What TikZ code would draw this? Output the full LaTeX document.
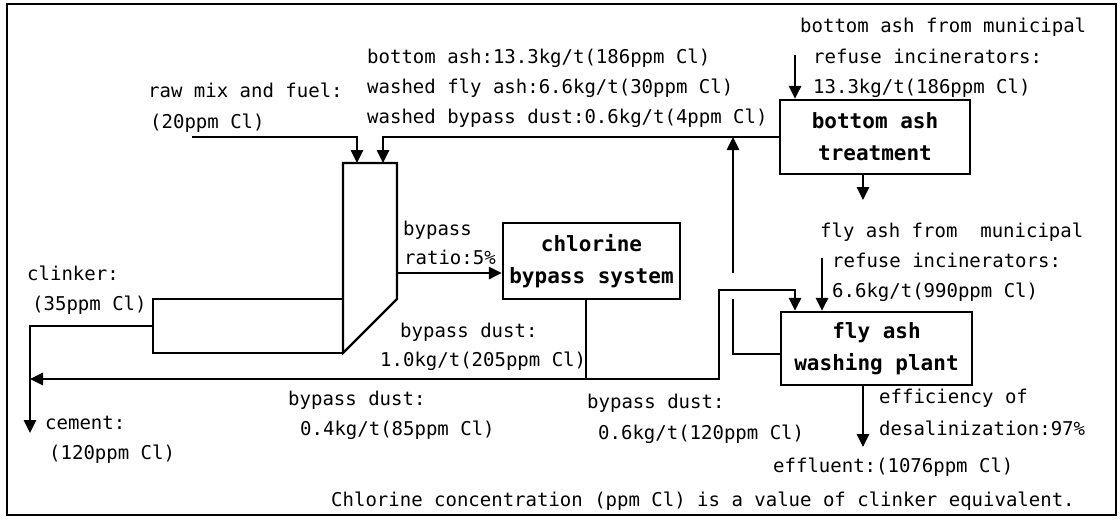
\documentclass[tikz,border=0pt]{standalone}
\usepackage{fontspec}
\newfontfamily\dmono{DejaVu Sans Mono}
\usetikzlibrary{arrows.meta}
\begin{document}
\begin{tikzpicture}[x=1pt,y=-1pt,
  lbl/.style={anchor=base west, inner sep=0pt, font=\dmono\fontsize{19}{19}\selectfont},
  box/.style={draw, line width=2.2pt, inner sep=0pt, align=center, font=\dmono\bfseries\fontsize{21}{32}\selectfont},
  flow/.style={line width=2.8pt, -{Triangle[length=13pt,width=12pt]}},
  plain/.style={line width=2.8pt},
  outline/.style={line width=2.2pt, line join=miter}]
\useasboundingbox (0,0) rectangle (1120,520);
\draw[line width=2.2pt] (7,4) rectangle (1116,515);

% kiln and preheater tower
\draw[outline] (153,299) rectangle (343,353);
\draw[outline] (343,163) -- (397,163) -- (397,299) -- (343,353) -- cycle;

% boxes
\node[box, minimum width=190pt, minimum height=74pt] (bat) at (875,137) {bottom ash\\treatment};
\node[box, minimum width=177pt, minimum height=76pt] (cbs) at (591.5,261) {chlorine\\bypass system};
\node[box, minimum width=191pt, minimum height=73pt] (faw) at (876.5,348.5) {fly ash\\washing plant};

% coordinates
\coordinate (t1) at (357,163);
\coordinate (t2) at (383,163);
\coordinate (rm) at (192,137);
\coordinate (tr) at (397,273);
\coordinate (kl) at (153,326);
\coordinate (cem) at (30,433);
\coordinate (cl) at (30,379);
\coordinate (dj) at (586,379);
\coordinate (up) at (719,290);
\coordinate (bain) at (795,55);
\coordinate (baout) at (863,200);
\coordinate (fain) at (822,258);
\coordinate (ret) at (733,354);
\coordinate (gapb) at (733,299);
\coordinate (gapt) at (733,273);
\coordinate (eff) at (863,447);

% connectors
\draw[flow] (rm) -| (t1);
\draw[flow] (bat.west) -| (t2);
\draw[flow] (bain) -- (bain |- bat.north);
\draw[flow] (baout |- bat.south) -- (baout);
\draw[flow] (tr) -- (tr -| cbs.west);
\draw[plain] (dj |- cbs.south) -- (dj);
\draw[flow] (dj) -- (cl);
\draw[flow] (dj) -| (up) -| (faw.north -| bain);
\draw[flow] (fain) -- (fain |- faw.north);
\draw[plain] (faw.west |- ret) -- (ret) -- (gapb);
\draw[flow] (gapt) -- (gapt |- bat.west);
\draw[flow] (kl) -| (cem);
\draw[flow] (faw.south -| baout) -- (eff);

% labels
\node[lbl] (l1) at (148,97) {raw mix and fuel:};
\node[lbl] (l2) at (150,128) {(20ppm Cl)};
\node[lbl] (l3) at (367,63) {bottom ash:13.3kg/t(186ppm Cl)};
\node[lbl] (l4) at (367,93) {washed fly ash:6.6kg/t(30ppm Cl)};
\node[lbl] (l5) at (367,123) {washed bypass dust:0.6kg/t(4ppm Cl)};
\node[lbl] (l6) at (800,32) {bottom ash from municipal};
\node[lbl] (l7) at (813,63) {refuse incinerators:};
\node[lbl] (l8) at (813,93) {13.3kg/t(186ppm Cl)};
\node[lbl] (l9) at (403,235) {bypass};
\node[lbl] (l10) at (404,264) {ratio:5\%};
\node[lbl] (l11) at (27,280) {clinker:};
\node[lbl] (l12) at (32,310) {(35ppm Cl)};
\node[lbl] (l13) at (400,337) {bypass dust:};
\node[lbl] (l14) at (380,366) {1.0kg/t(205ppm Cl)};
\node[lbl] (l15) at (288,405) {bypass dust:};
\node[lbl] (l16) at (300,435) {0.4kg/t(85ppm Cl)};
\node[lbl] (l17) at (45,429) {cement:};
\node[lbl] (l18) at (49,459) {(120ppm Cl)};
\node[lbl] (l19) at (587,408) {bypass dust:};
\node[lbl] (l20) at (598,439) {0.6kg/t(120ppm Cl)};
\node[lbl] (l21) at (879,403) {efficiency of};
\node[lbl] (l22) at (879,435) {desalinization:97\%};
\node[lbl] (l23) at (773,472) {effluent:(1076ppm Cl)};
\node[lbl] (l24) at (331,506) {Chlorine concentration (ppm Cl) is a value of clinker equivalent.};
\node[lbl] (l25) at (820,237) {fly ash from\ \ municipal};
\node[lbl] (l26) at (832,267) {refuse incinerators:};
\node[lbl] (l27) at (832,297) {6.6kg/t(990ppm Cl)};
\end{tikzpicture}
\end{document}
